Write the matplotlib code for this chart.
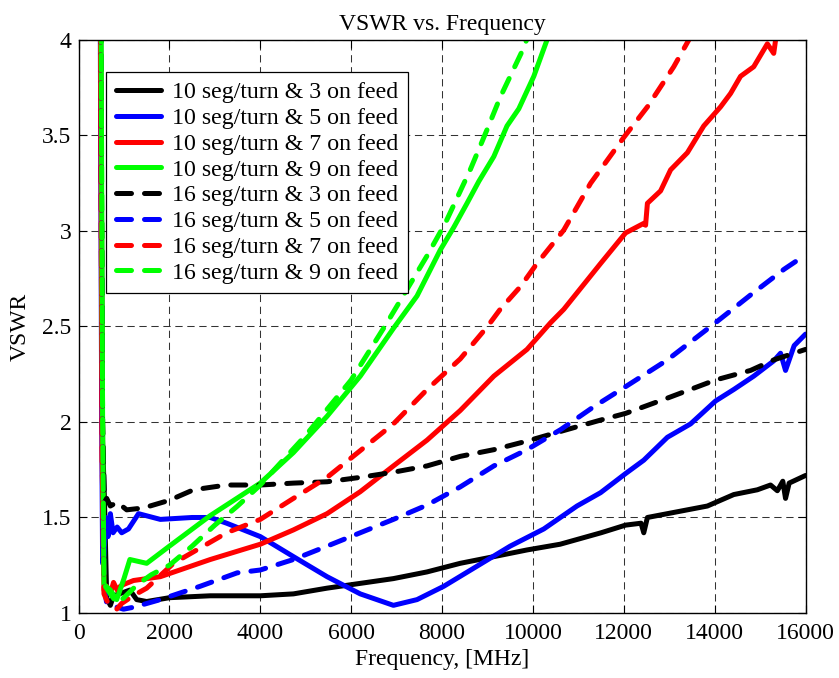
import matplotlib
matplotlib.use("Agg")
import matplotlib.pyplot as plt
from matplotlib.ticker import FormatStrFormatter

FS = 17
LW = 3.6

plt.rcParams.update({
    "font.family": ["Liberation Serif", "DejaVu Serif"],
    "font.size": FS,
    "axes.linewidth": 1.0,
})

# 10 seg/turn & 3 on feed
f_10_3 = [450, 530, 570, 620, 700, 770, 900, 1130, 1280, 1500, 2000, 2900, 4000,
          4730, 5470, 6200, 6930, 7670, 8400, 9140, 9870, 10600, 11500, 12040,
          12380, 12440, 12520, 13180, 13840, 14420, 14940, 15230, 15380, 15500,
          15560, 15640, 16000]
v_10_3 = [6.0, 1.9, 1.6, 1.08, 1.04, 1.09, 1.10, 1.12, 1.07, 1.06, 1.08, 1.09, 1.09,
          1.10, 1.13, 1.155, 1.18, 1.215, 1.26, 1.295, 1.33, 1.36, 1.42, 1.46,
          1.47, 1.42, 1.50, 1.53, 1.56, 1.62, 1.645, 1.67, 1.64, 1.69,
          1.60, 1.68, 1.72]

# 10 seg/turn & 5 on feed
f_10_5 = [450, 510, 530, 560, 600, 650, 700, 760, 850, 950, 1100, 1320, 1800, 2500,
          2900, 3260, 4000, 4730, 5470, 6200, 6930, 7450, 8040, 8770, 9500, 10240,
          10970, 11490, 12040, 12440, 12960, 13470, 14020, 14420, 14860, 15300,
          15450, 15560, 15750, 16000]
v_10_5 = [6.0, 2.0, 1.26, 1.30, 1.50, 1.40, 1.52, 1.42, 1.45, 1.42, 1.44, 1.52, 1.49, 1.50,
          1.50, 1.47, 1.40, 1.295, 1.19, 1.10, 1.04, 1.07, 1.14, 1.245, 1.35, 1.44,
          1.56, 1.63, 1.73, 1.80, 1.92, 1.99, 2.11, 2.17, 2.24, 2.32,
          2.36, 2.27, 2.40, 2.46]

# 10 seg/turn & 7 on feed
f_10_7 = [450, 520, 560, 620, 700, 770, 850, 920, 1000, 1210, 1800, 2900, 4000, 4730,
          5470, 6200, 6930, 7670, 8400, 9140, 9870, 10390, 10680, 11490, 12040,
          12440, 12480, 12520, 12810, 13030, 13400, 13760, 14130, 14350, 14570,
          14860, 15160, 15300, 15400]
v_10_7 = [6.0, 1.8, 1.12, 1.14, 1.10, 1.16, 1.12, 1.14, 1.15, 1.17, 1.19, 1.28, 1.36, 1.435,
          1.52, 1.635, 1.77, 1.905, 2.06, 2.24, 2.38, 2.52, 2.59, 2.83, 2.99,
          3.04, 3.03, 3.145, 3.21, 3.32, 3.41, 3.55, 3.65, 3.72, 3.81,
          3.86, 3.98, 3.93, 4.1]

# 10 seg/turn & 9 on feed
f_10_9 = [470, 490, 530, 560, 700, 840, 1000, 1130, 1500, 2000, 2900, 4000, 4730, 5470,
          6200, 6930, 7450, 7960, 8260, 8550, 8810, 9140, 9430, 9690, 10020, 10310, 10400]
v_10_9 = [8.0, 4.5, 2.0, 1.15, 1.12, 1.07, 1.18, 1.28, 1.26, 1.35, 1.51, 1.68, 1.84, 2.03,
          2.24, 2.49, 2.66, 2.90, 3.02, 3.145, 3.26, 3.39, 3.55, 3.64, 3.81, 4.0, 4.06]

# 16 seg/turn & 3 on feed
f_16_3 = [450, 530, 570, 620, 700, 850, 1060, 1430, 2000, 2530, 3260, 4000, 4730, 5470,
          6200, 6930, 7670, 8400, 9140, 9870, 10600, 11490, 12040, 12960, 14020,
          14790, 15300, 16000]
v_16_3 = [6.0, 2.0, 1.58, 1.60, 1.56, 1.58, 1.54, 1.55, 1.59, 1.645, 1.67, 1.67, 1.68, 1.687,
          1.71, 1.737, 1.77, 1.82, 1.855, 1.90, 1.95, 2.01, 2.045, 2.125, 2.22,
          2.27, 2.325, 2.38]

# 16 seg/turn & 5 on feed
f_16_5 = [450, 520, 560, 620, 700, 850, 990, 1210, 1800, 2680, 3490, 4000, 4730, 5470,
          6200, 6930, 7670, 8400, 9140, 9870, 10610, 11340, 12040, 12960, 14020,
          14790, 15530, 16000]
v_16_5 = [6.0, 2.0, 1.15, 1.05, 1.05, 1.03, 1.02, 1.03, 1.07, 1.14, 1.21, 1.225, 1.28, 1.35,
          1.42, 1.49, 1.565, 1.66, 1.77, 1.855, 1.96, 2.08, 2.185, 2.325, 2.52,
          2.665, 2.80, 2.875]

# 16 seg/turn & 7 on feed
f_16_7 = [450, 520, 560, 650, 750, 840, 950, 1200, 1500, 2090, 3260, 4000, 4730, 5470,
          6200, 6930, 7670, 8400, 9000, 9280, 9730, 10090, 10680, 11270, 12000,
          12520, 13100, 13430, 13500]
v_16_7 = [6.0, 1.8, 1.10, 1.05, 1.03, 1.02, 1.05, 1.09, 1.13, 1.26, 1.42, 1.49, 1.60, 1.71,
          1.85, 1.99, 2.17, 2.33, 2.50, 2.59, 2.71, 2.83, 3.005, 3.25, 3.49,
          3.65, 3.86, 4.0, 4.05]

# 16 seg/turn & 9 on feed
f_16_9 = [470, 490, 530, 560, 700, 850, 1000, 1300, 1600, 2000, 2500, 3000, 3500, 4000,
          5000, 6000, 6790, 7670, 8070, 8620, 8990, 9280, 9760, 9860]
v_16_9 = [8.0, 4.5, 2.0, 1.15, 1.10, 1.05, 1.08, 1.15, 1.20, 1.25, 1.35, 1.46, 1.56, 1.67,
          1.93, 2.22, 2.52, 2.87, 3.04, 3.32, 3.53, 3.70, 3.94, 4.0]

series = [
    (f_10_3, v_10_3, "k", "-", "10 seg/turn & 3 on feed"),
    (f_10_5, v_10_5, "b", "-", "10 seg/turn & 5 on feed"),
    (f_10_7, v_10_7, "r", "-", "10 seg/turn & 7 on feed"),
    (f_10_9, v_10_9, "#00ff00", "-", "10 seg/turn & 9 on feed"),
    (f_16_3, v_16_3, "k", "--", "16 seg/turn & 3 on feed"),
    (f_16_5, v_16_5, "b", "--", "16 seg/turn & 5 on feed"),
    (f_16_7, v_16_7, "r", "--", "16 seg/turn & 7 on feed"),
    (f_16_9, v_16_9, "#00ff00", "--", "16 seg/turn & 9 on feed"),
]

fig = plt.figure(figsize=(8.39, 6.78), dpi=100)
ax = fig.add_axes([0.0936, 0.0959, 0.8665, 0.8451])

for f, v, c, ls, lab in series:
    style = (0, (3.0, 2.6)) if ls == "--" else "-"
    ax.plot(f, v, color=c, linestyle=style, lw=LW, label=lab,
            solid_capstyle="round", dash_capstyle="round",
            solid_joinstyle="round", dash_joinstyle="round")

ax.set_xlim(0, 16000)
ax.set_ylim(1, 4)
ax.set_xticks(range(0, 16001, 2000))
ax.set_yticks([1, 1.5, 2, 2.5, 3, 3.5, 4])
ax.yaxis.set_major_formatter(FormatStrFormatter("%g"))
ax.grid(True, color="0.2", linewidth=0.75, linestyle=(0, (7.0, 4.5)))
ax.tick_params(direction="in", top=True, right=True, length=6, width=0.8,
               labelsize=FS)
ax.tick_params(axis="x", pad=7)
ax.tick_params(axis="y", pad=5)

ax.set_title("VSWR vs. Frequency", fontsize=FS, pad=7)
ax.set_xlabel("Frequency, [MHz]", fontsize=FS, labelpad=4)
ax.set_ylabel("VSWR", fontsize=FS, labelpad=8)

leg = ax.legend(loc="upper left", bbox_to_anchor=(0.038, 0.944), borderaxespad=0,
                fontsize=17.2, labelspacing=0.17, handlelength=1.9,
                handletextpad=0.45, borderpad=0.4, fancybox=False,
                framealpha=1, edgecolor="k")
leg.get_frame().set_linewidth(0.9)

fig.savefig("out.png", dpi=100)
